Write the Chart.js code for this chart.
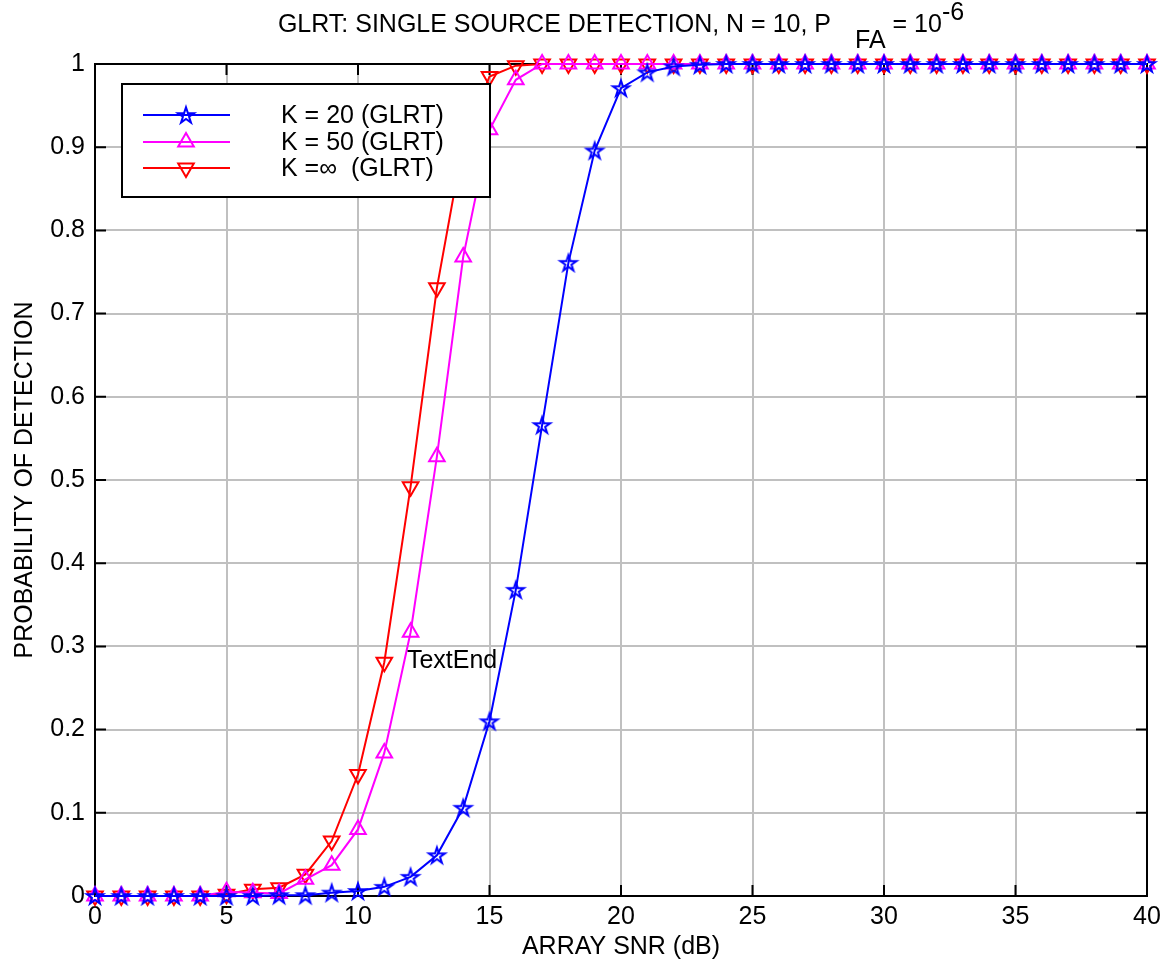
<!DOCTYPE html>
<html>
<head>
<meta charset="utf-8">
<script src="https://cdn.jsdelivr.net/npm/chart.js@4.4.0/dist/chart.umd.min.js"></script>
<style>
  html, body { margin: 0; padding: 0; background: #fff; }
  #wrap { width: 1167px; height: 966px; }
</style>
</head>
<body>
<div id="wrap"><canvas id="pd"></canvas></div>
<script>
// array SNR in dB
const snr = [0, 1, 2, 3, 4, 5, 6, 7, 8, 9, 10, 11, 12, 13, 14, 15, 16, 17, 18, 19, 20,
    21, 22, 23, 24, 25, 26, 27, 28, 29, 30, 31, 32, 33, 34, 35, 36, 37, 38, 39, 40]

// probability of detection
const pdK20 = [0, 0, 0, 0, 0, 0, 0, 0.001, 0.001, 0.004, 0.006, 0.011, 0.023, 0.049, 0.106, 0.21,
    0.368, 0.566, 0.761, 0.896, 0.971, 0.99, 0.997, 0.999, 1, 1, 1, 1, 1, 1, 1,
    1, 1, 1, 1, 1, 1, 1, 1, 1, 1]
const pdK50 = [0, 0, 0, 0, 0, 0.005, 0.004, 0.003, 0.02, 0.037, 0.08, 0.172, 0.317, 0.528, 0.768, 0.921,
    0.981, 1, 1, 1, 1, 1, 1, 1, 1, 1, 1, 1, 1, 1, 1,
    1, 1, 1, 1, 1, 1, 1, 1, 1, 1]
const pdKinf = [0, 0, 0, 0, 0, 0.002, 0.008, 0.01, 0.026, 0.066, 0.146, 0.281, 0.492, 0.731, 0.905, 0.985,
    0.998, 1, 1, 1, 1, 1, 1, 1, 1, 1, 1, 1, 1, 1, 1,
    1, 1, 1, 1, 1, 1, 1, 1, 1, 1]

const xTicks = [0, 5, 10, 15, 20, 25, 30, 35, 40]
const yTicks = [0, 0.1, 0.2, 0.3, 0.4, 0.5, 0.6, 0.7, 0.8, 0.9, 1]
const yTickLabels = ['0', '0.1', '0.2', '0.3', '0.4', '0.5', '0.6', '0.7', '0.8', '0.9', '1']
const seriesLabels = ['K = 20 (GLRT)', 'K = 50 (GLRT)', 'K =\u221e  (GLRT)']
const textEnd = { label: 'TextEnd', x: 11.86, y: 0.282 }

const FONT = '"Liberation Sans", Arial, sans-serif'
const FS = 25

// matlab style pentagram marker
function pentagram(color) {
    const c = document.createElement('canvas')
    c.width = 24
    c.height = 24
    const g = c.getContext('2d')
    const R = 8.5, r = R * 0.382
    g.beginPath()
    for (let i = 0; i < 10; i++) {
        const a = -Math.PI / 2 + i * Math.PI / 5
        const rad = i % 2 ? r : R
        const px = 12 + rad * Math.cos(a), py = 12.8 + rad * Math.sin(a)
        if (i === 0) g.moveTo(px, py); else g.lineTo(px, py)
    }
    g.closePath()
    g.strokeStyle = color
    g.lineWidth = 2
    g.stroke()
    return c
}

const star = pentagram('#0000ff')

const mk = (vals) => snr.map((x, i) => ({ x: x, y: vals[i] }))

const datasets = [
    { label: seriesLabels[0], data: mk(pdK20), borderColor: '#0000ff', pointStyle: star, pointRadius: 9 },
    { label: seriesLabels[1], data: mk(pdK50), borderColor: '#ff00ff', pointStyle: 'triangle', pointRadius: 9 },
    { label: seriesLabels[2], data: mk(pdKinf), borderColor: '#ff0000', pointStyle: 'triangle', pointRadius: 9, pointRotation: 180 },
].map(d => Object.assign({
    borderWidth: 2,
    pointBorderColor: d.borderColor,
    pointBackgroundColor: 'rgba(0,0,0,0)',
    pointBorderWidth: 2,
    tension: 0,
    clip: false,
}, d))

// black box + inward ticks
const axesBox = {
    id: 'axesBox',
    beforeDatasetsDraw(chart) {
        const { ctx, chartArea: a, scales } = chart
        ctx.save()
        ctx.strokeStyle = '#000'
        ctx.lineWidth = 2
        ctx.strokeRect(a.left, a.top, a.right - a.left, a.bottom - a.top)
        ctx.beginPath()
        xTicks.forEach(v => {
            const px = scales.x.getPixelForValue(v)
            ctx.moveTo(px, a.bottom); ctx.lineTo(px, a.bottom - 11)
            ctx.moveTo(px, a.top); ctx.lineTo(px, a.top + 11)
        })
        yTicks.forEach(v => {
            const py = scales.y.getPixelForValue(v)
            ctx.moveTo(a.left, py); ctx.lineTo(a.left + 11, py)
            ctx.moveTo(a.right, py); ctx.lineTo(a.right - 11, py)
        })
        ctx.stroke()
        ctx.restore()
    }
}

// legend box inside the axes, upper left
const boxLegend = {
    id: 'boxLegend',
    afterDatasetsDraw(chart) {
        const { ctx, chartArea: a } = chart
        const left = a.left + 27, top = a.top + 20, w = 368, h = 113
        ctx.save()
        ctx.fillStyle = '#fff'
        ctx.fillRect(left, top, w, h)
        ctx.strokeStyle = '#000'
        ctx.lineWidth = 2
        ctx.strokeRect(left, top, w, h)
        const rows = [top + 31, top + 58, top + 84]
        chart.data.datasets.forEach((ds, i) => {
            const y = rows[i]
            ctx.strokeStyle = ds.borderColor
            ctx.lineWidth = 2
            ctx.beginPath()
            ctx.moveTo(left + 21, y)
            ctx.lineTo(left + 108, y)
            ctx.stroke()
            ctx.fillStyle = 'rgba(0,0,0,0)'
            Chart.helpers.drawPoint(ctx, {
                pointStyle: ds.pointStyle,
                radius: ds.pointRadius,
                rotation: ds.pointRotation || 0,
                borderWidth: 2
            }, left + 64, y)
            ctx.fillStyle = '#000'
            ctx.font = FS + 'px ' + FONT
            ctx.textBaseline = 'middle'
            ctx.textAlign = 'left'
            ctx.fillText(ds.label, left + 159, y + 1)
        })
        ctx.restore()
    }
}

// title with sub/superscript and the stray text label
const texts = {
    id: 'texts',
    afterDraw(chart) {
        const { ctx, chartArea: a, scales } = chart
        ctx.save()
        ctx.fillStyle = '#000'
        ctx.font = FS + 'px ' + FONT
        ctx.textBaseline = 'alphabetic'
        ctx.textAlign = 'left'
        const parts = [
            { t: 'GLRT: SINGLE SOURCE DETECTION, N = 10, P', dy: 0, gap: 24 },
            { t: 'FA', dy: 16, gap: 0 },
            { t: ' = 10', dy: 0, gap: 0 },
            { t: '-6', dy: -12, gap: 0 },
        ]
        const total = parts.reduce((s, p) => s + ctx.measureText(p.t).width + p.gap, 0)
        let x = (a.left + a.right) / 2 - total / 2
        const base = 32
        parts.forEach(p => {
            ctx.fillText(p.t, x, base + p.dy)
            x += ctx.measureText(p.t).width + p.gap
        })
        ctx.textBaseline = 'middle'
        ctx.fillText(textEnd.label, scales.x.getPixelForValue(textEnd.x), scales.y.getPixelForValue(textEnd.y))
        ctx.restore()
    }
}

const tickFont = { family: FONT, size: FS }

const pdChart = new Chart(
    document.getElementById('pd'),
    {
        type: 'line',
        data: { datasets: datasets },
        options: {
            responsive: true,
            maintainAspectRatio: false,
            animation: false,
            layout: { padding: { top: 64, right: 20, left: 0, bottom: 0 } },
            plugins: {
                legend: { display: false },
                tooltip: { enabled: false },
            },
            scales: {
                x: {
                    type: 'linear',
                    min: 0,
                    max: 40,
                    afterBuildTicks: (s) => { s.ticks = xTicks.map(v => ({ value: v })) },
                    afterFit: (s) => { s.height = 70 },
                    ticks: { color: '#000', font: tickFont, padding: 6, maxRotation: 0, callback: (v) => String(v) },
                    grid: { color: '#c0c0c0', lineWidth: 2, drawTicks: false },
                    border: { display: false },
                    title: { display: true, text: 'ARRAY SNR (dB)', color: '#000', font: tickFont, padding: { top: 0, bottom: 4 } },
                },
                y: {
                    type: 'linear',
                    min: 0,
                    max: 1,
                    afterBuildTicks: (s) => { s.ticks = yTicks.map(v => ({ value: v })) },
                    afterFit: (s) => { s.width = 95 },
                    ticks: { color: '#000', font: tickFont, padding: 10, callback: (v, i) => yTickLabels[i] },
                    grid: { color: '#c0c0c0', lineWidth: 2, drawTicks: false },
                    border: { display: false },
                    title: { display: true, text: 'PROBABILITY OF DETECTION', color: '#000', font: tickFont, padding: { top: 10, bottom: 0 } },
                },
            },
        },
        plugins: [axesBox, boxLegend, texts],
    }
)
</script>
</body>
</html>
